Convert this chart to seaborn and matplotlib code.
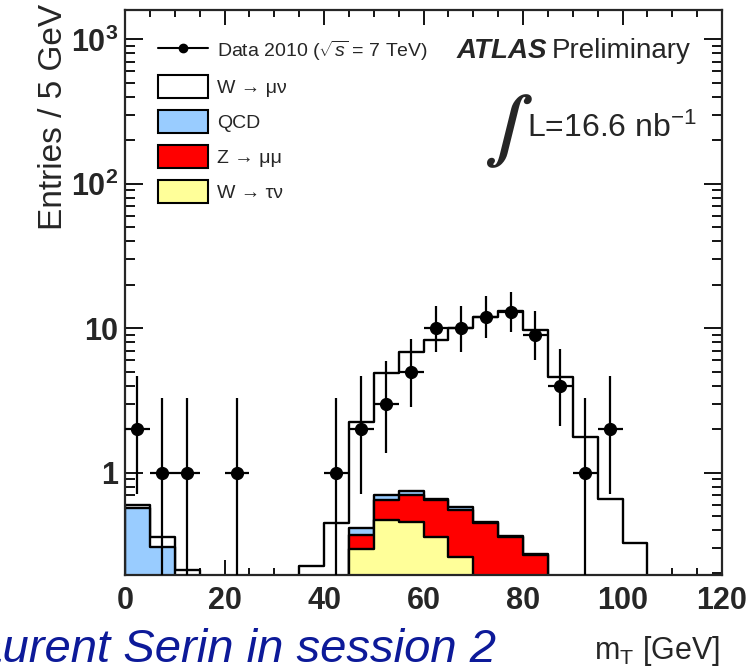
import numpy as np
import pandas as pd
import matplotlib
matplotlib.use("Agg")
import matplotlib.pyplot as plt
from matplotlib.lines import Line2D
from matplotlib.patches import Patch
from matplotlib.ticker import FixedLocator, FixedFormatter, MultipleLocator, LogLocator, NullFormatter
import seaborn as sns

# ---------------- data ----------------
bin_edges = [float(e) for e in range(0, 125, 5)]
bin_centers = [2.5, 7.5, 12.5, 17.5, 22.5, 27.5, 32.5, 37.5, 42.5, 47.5, 52.5, 57.5,
               62.5, 67.5, 72.5, 77.5, 82.5, 87.5, 92.5, 97.5, 102.5, 107.5, 112.5, 117.5]

wtaunu = [0, 0, 0, 0, 0, 0, 0, 0, 0, 0.293, 0.468, 0.456, 0.359, 0.261, 0.15, 0.08, 0.04,
          0, 0, 0, 0, 0, 0, 0]
zmumu = [0, 0, 0, 0, 0, 0, 0, 0, 0, 0.079, 0.175, 0.241, 0.284, 0.287, 0.294, 0.279, 0.228,
         0, 0, 0, 0, 0, 0, 0]
qcd = [0.57, 0.306, 0.02, 0, 0, 0, 0, 0, 0, 0.042, 0.054, 0.049, 0.017, 0.03, 0.012, 0.005,
       0.005, 0, 0, 0, 0, 0, 0, 0]
wmunu = [0.03, 0.05, 0.19, 0, 0, 0, 0, 0.225, 0.45, 1.83, 4.19, 6.07, 7.64, 9.42, 11.44,
         12.74, 9.48, 4.58, 1.76, 0.66, 0.326, 0, 0, 0]

data_x = [2.5, 7.5, 12.5, 22.5, 42.5, 47.5, 52.5, 57.5, 62.5, 67.5, 72.5, 77.5, 82.5, 87.5, 92.5, 97.5]
data_y = [2, 1, 1, 1, 1, 2, 3, 5, 10, 10, 12, 13, 9, 4, 1, 2]
data_err_lo = [1.29, 0.83, 0.83, 0.83, 0.83, 1.29, 1.63, 2.16, 3.11, 3.11, 3.41, 3.55, 2.94, 1.91, 0.83, 1.29]
data_err_hi = [2.64, 2.30, 2.30, 2.30, 2.30, 2.64, 2.92, 3.38, 4.27, 4.27, 4.61, 4.77, 4.08, 3.16, 2.30, 2.64]

labels = ["Data 2010 ($\\sqrt{s}$ = 7 TeV)", "W \u2192 \u03bc\u03bd", "QCD",
          "Z \u2192 \u03bc\u03bc", "W \u2192 \u03c4\u03bd"]
colors = {"wmunu": "#ffffff", "qcd": "#99ccff", "zmumu": "#ff0000", "wtaunu": "#ffff99"}

# ---------------- style ----------------
sns.set_style("ticks")
plt.rcParams["font.family"] = ["Liberation Sans", "DejaVu Sans"]
plt.rcParams["mathtext.fontset"] = "custom"
plt.rcParams["mathtext.rm"] = "Liberation Sans"
plt.rcParams["mathtext.it"] = "Liberation Sans:italic"
plt.rcParams["mathtext.bf"] = "Liberation Sans:bold"

fig = plt.figure(figsize=(7.46, 6.68), dpi=100)
ax = fig.add_axes([125 / 746, 1 - 575 / 668, 597 / 746, 565 / 668])

# stacked cumulative layers (ROOT THStack style)
s_yellow = np.array(wtaunu)
s_red = s_yellow + np.array(zmumu)
s_blue = s_red + np.array(qcd)
s_white = s_blue + np.array(wmunu)

df = pd.DataFrame({"mT": bin_centers, "white": s_white, "blue": s_blue,
                   "red": s_red, "yellow": s_yellow})

for col, c in [("white", colors["wmunu"]), ("blue", colors["qcd"]),
               ("red", colors["zmumu"]), ("yellow", colors["wtaunu"])]:
    sns.histplot(data=df, x="mT", weights=col, bins=bin_edges, element="step",
                 fill=True, color=c, alpha=1, edgecolor="black", linewidth=1.7, ax=ax)

ax.set_yscale("log")

# data points
ax.errorbar(data_x, data_y, xerr=2.5, yerr=[data_err_lo, data_err_hi], fmt="o",
            color="black", ms=8.5, elinewidth=1.6, capsize=0, zorder=10)

ax.set_xlim(0, 120)
ax.set_ylim(0.195, 1600)

# ticks
ax.xaxis.set_major_locator(FixedLocator([0, 20, 40, 60, 80, 100, 120]))
ax.xaxis.set_minor_locator(MultipleLocator(5))
ax.yaxis.set_major_locator(FixedLocator([1, 10, 100, 1000]))
ax.yaxis.set_major_formatter(FixedFormatter(["1", "10", r"$\mathbf{10^{2}}$", r"$\mathbf{10^{3}}$"]))
ax.yaxis.set_minor_locator(LogLocator(base=10, subs=np.arange(2, 10)))
ax.yaxis.set_minor_formatter(NullFormatter())
ax.tick_params(which="both", direction="in", top=True, right=True, width=1.3, color="black")
ax.tick_params(axis="x", which="major", length=11, pad=8)
ax.tick_params(axis="x", which="minor", length=5)
ax.tick_params(axis="y", which="major", length=13, pad=5)
ax.tick_params(axis="y", which="minor", length=7)
for lab in ax.get_xticklabels() + ax.get_yticklabels():
    lab.set_fontsize(22)
    lab.set_fontweight("bold")
for sp in ax.spines.values():
    sp.set_linewidth(1.6)
    sp.set_visible(True)

ax.set_ylabel("Entries / 5 GeV", fontsize=24, loc="top")
ax.yaxis.set_label_coords(-0.094, 1.0106)
ax.set_xlabel("m$_{\\mathregular{T}}$ [GeV]", fontsize=22, loc="right")
ax.xaxis.set_label_coords(0.9966, -0.104)
ax.xaxis.label.set_va("top")

# legend
handles = [Line2D([], [], color="black", marker="o", ms=6, lw=1.5),
           Patch(facecolor=colors["wmunu"], edgecolor="black", lw=1.5),
           Patch(facecolor=colors["qcd"], edgecolor="black", lw=1.5),
           Patch(facecolor=colors["zmumu"], edgecolor="black", lw=1.5),
           Patch(facecolor=colors["wtaunu"], edgecolor="black", lw=1.5)]
ax.legend(handles, labels, loc="upper left", bbox_to_anchor=(0.0553, 0.9487),
          frameon=False, fontsize=14, borderpad=0, borderaxespad=0,
          handlelength=2.58, handleheight=1.44, labelspacing=0.62, handletextpad=0.46)

# annotations
ax.text((457 - 125) / 597, (575 - 58) / 565, "ATLAS", transform=ax.transAxes,
        fontsize=20, fontweight="bold", fontstyle="italic", va="baseline")
ax.text((552 - 125) / 597, (575 - 58) / 565, "Preliminary", transform=ax.transAxes,
        fontsize=20, va="baseline")
ax.text((503 - 125) / 597, (575 - 131) / 565, "\u222b", transform=ax.transAxes,
        fontsize=46, fontweight="bold", ha="center", va="center",
        family=["STIXGeneral", "DejaVu Sans"])
ax.text((527 - 125) / 597, (575 - 137) / 565, "L=16.6 nb$^{\\mathregular{-1}}$",
        transform=ax.transAxes, fontsize=23, va="baseline")

fig.text(-50 / 746, 6 / 668, "Laurent Serin in session 2", fontsize=34,
         fontstyle="italic", color="#0d1a99", va="baseline", ha="left")

fig.savefig("out.png", dpi=100)
